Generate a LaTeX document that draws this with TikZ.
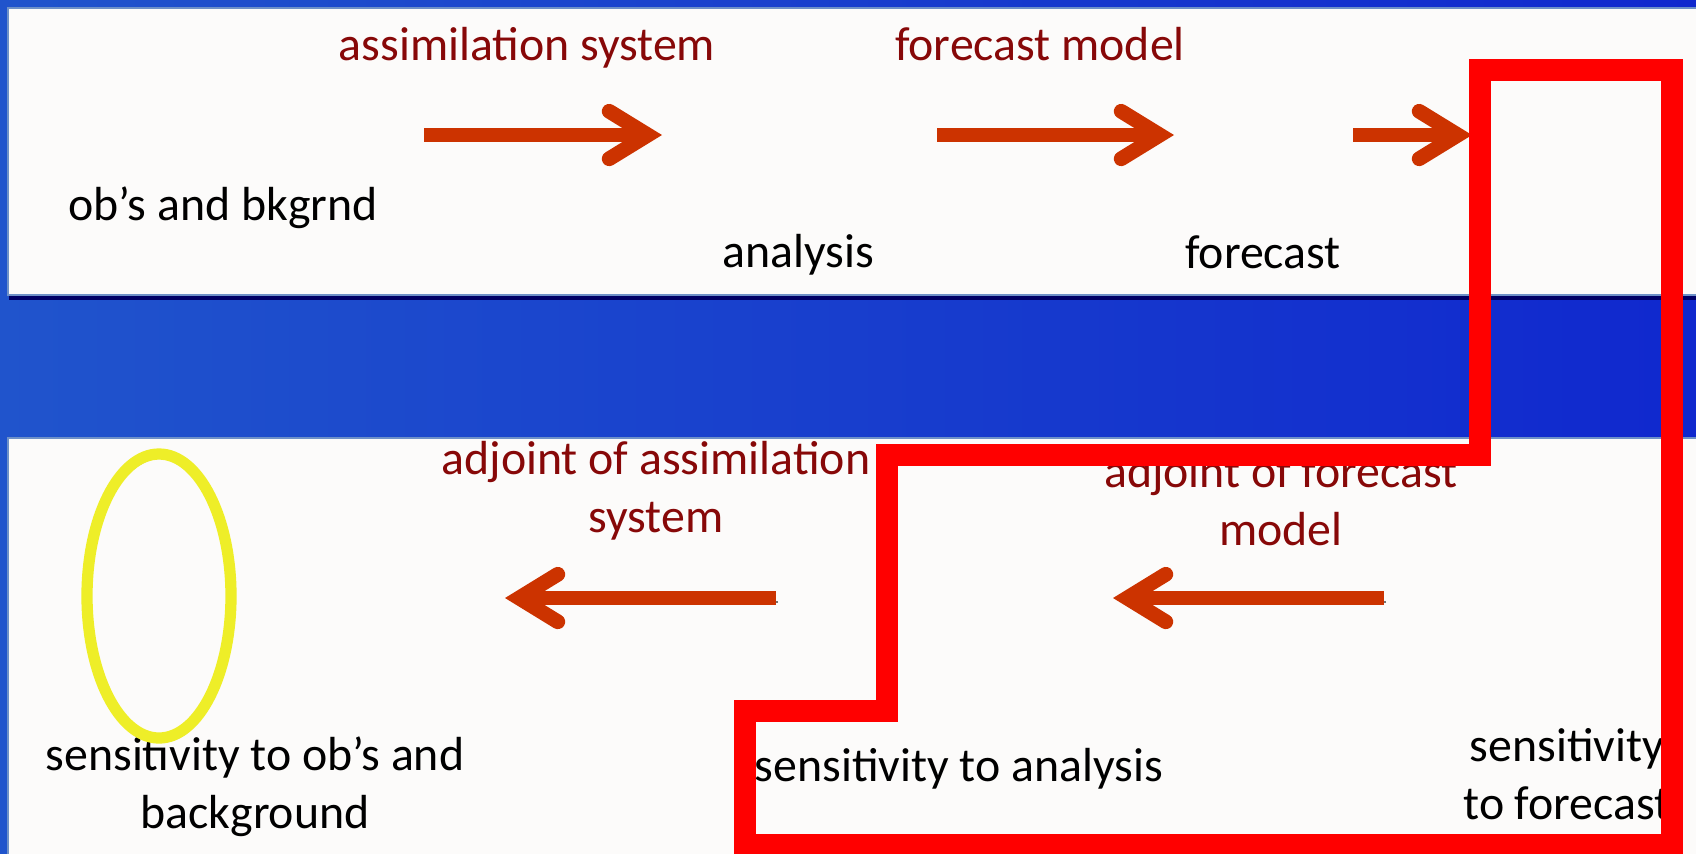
\documentclass[tikz,border=0pt]{standalone}
\usepackage{fontspec}
\setmainfont{Carlito}
\usetikzlibrary{arrows.meta}
\definecolor{slideblueL}{RGB}{32,84,204}
\definecolor{slideblueR}{RGB}{16,40,206}
\definecolor{panelwhite}{RGB}{252,251,250}
\definecolor{panelrim}{RGB}{110,145,200}
\definecolor{steptext}{RGB}{135,8,8}
\definecolor{arrowred}{RGB}{204,51,0}
\definecolor{markred}{RGB}{255,0,0}
\definecolor{markyellow}{RGB}{238,238,40}
\begin{document}
\begin{tikzpicture}[x=0.01cm, y=-0.01cm]

\tikzstyle{shadowed} = [preaction={draw=black!55, transform canvas={shift={(2,4)}}}]
\tikzstyle{blacklabel} = [anchor=base, inner sep=0pt, align=center, font=\fontsize{13.6}{16.4}\selectfont]
\tikzstyle{redlabel} = [blacklabel, text=steptext]
\tikzstyle{fatarrow} = [shadowed, draw=arrowred, line width=4.2pt, -{Straight Barb[length=11pt, width=13.5pt, line cap=round]}]

\useasboundingbox (0,0) rectangle (1696,853);

% slide background and the two panels
\shade[left color=slideblueL, right color=slideblueR] (0,0) rectangle (1696,853);
\fill[blue!40!black] (9,295) rectangle (1700,300);
\filldraw[fill=panelwhite, draw=panelrim, line width=0.6pt] (8,8) rectangle (1702,295);
\filldraw[fill=panelwhite, draw=panelrim, line width=0.6pt] (8,438) rectangle (1702,860);

% forward chain
\node[at={(223,220)}, blacklabel] (obs) {ob’s and bkgrnd};
\node[at={(798,267)}, blacklabel] (ana) {analysis};
\node[at={(1263,268)}, blacklabel] (fc) {forecast};
\node[at={(527,60)}, redlabel] (assim) {assimilation system};
\node[at={(1040,60)}, redlabel] (fcmodel) {forecast model};

\coordinate (f1a) at (424,135);
\coordinate (f1b) at (662,135);
\coordinate (f2a) at (937,135);
\coordinate (f2b) at (1174,135);
\coordinate (f3a) at (1353,135);
\coordinate (f3b) at (1472,135);
\draw[fatarrow] (f1a) -- (f1b);
\draw[fatarrow] (f2a) -- (f2b);
\draw[fatarrow] (f3a) -- (f3b);

% adjoint chain (base = last line)
\node[at={(656,532)}, redlabel] (adjassim) {adjoint of assimilation\\system};
\node[at={(1281,545)}, redlabel] (adjfc) {adjoint of forecast\\model};
\node[at={(255,828)}, blacklabel] (sensobs) {sensitivity to ob’s and\\background};
\node[at={(959,781)}, blacklabel] (sensana) {sensitivity to analysis};
\node[at={(1567,819)}, blacklabel] (sensfc) {sensitivity\\to forecast};

\coordinate (b1a) at (776,598);
\coordinate (b1b) at (505,598);
\coordinate (b2a) at (1384,598);
\coordinate (b2b) at (1113,598);
\draw[fatarrow] (b1a) -- (b1b);
\draw[fatarrow] (b2a) -- (b2b);

% highlights
\draw[shadowed, draw=markyellow, line width=3.2pt] (159,596) ellipse [x radius=72, y radius=142];
\draw[shadowed, draw=markred, line width=6pt, line join=miter]
  (1480,70) -- (1672,70) -- (1672,845) -- (745,845) -- (745,711)
  -- (887,711) -- (887,455) -- (1480,455) -- cycle;

\end{tikzpicture}
\end{document}
